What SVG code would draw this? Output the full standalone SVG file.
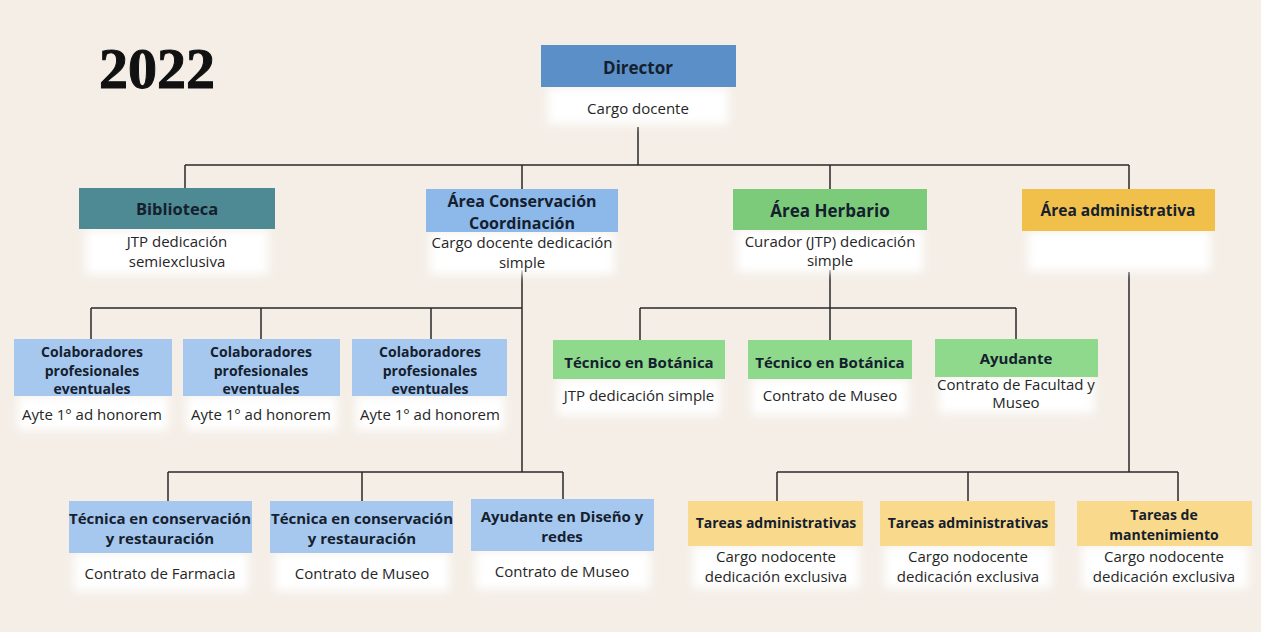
<svg xmlns="http://www.w3.org/2000/svg" width="1261" height="632" viewBox="0 0 1261 632">
<defs>
<filter id="soft" x="-20%" y="-40%" width="140%" height="180%"><feGaussianBlur stdDeviation="4"/></filter>
<style>
.t{font-family:"Open Sans","Liberation Sans",sans-serif;font-weight:700;fill:#15202e;text-anchor:middle}
.s{font-family:"Open Sans","Liberation Sans",sans-serif;font-weight:400;fill:#262626;text-anchor:middle;font-size:15px}
.blob{fill:#ffffff;filter:url(#soft)}
.c{stroke:#2a2a2a;stroke-width:1.5;fill:none}
.dblue{fill:#5b8fc8}
.teal{fill:#4e8a94}
.mblue{fill:#8cb9ea}
.lblue{fill:#a6c8ef}
.green{fill:#7ccb7b}
.lgreen{fill:#8fd98c}
.gold{fill:#f1c04b}
.lgold{fill:#f9d98c}
</style>
</defs>
<rect width="1261" height="632" fill="#f4eee7"/>
<text x="99" y="88" font-family="Liberation Serif, serif" font-weight="700" font-size="58" fill="#111" stroke="#111" stroke-width="1">2022</text>

<g id="connectors">
<path class="c" d="M638 127V165M185 165H1129M185 165V188M522 165V189M830 165V189M1129 165V189"/>
<path class="c" d="M522 270V472M91 308H522M91 308V339M261 308V339M431 308V339"/>
<path class="c" d="M830 270V340M640 308H1016M640 308V340M1016 308V339"/>
<path class="c" d="M168 472H563M168 472V501M362 472V501M563 472V501"/>
<path class="c" d="M1129 272V472M777 472H1178M777 472V501M968 472V501M1178 472V501"/>
</g>

<g id="director">
<rect class="blob" x="548" y="88" width="180" height="36"/>
<rect class="dblue" x="541" y="45" width="195" height="42"/>
<text class="t" x="638" y="74" font-size="17">Director</text>
<text class="s" x="638" y="114" font-size="16">Cargo docente</text>
</g>

<g id="biblioteca">
<rect class="blob" x="86" y="230" width="182" height="44"/>
<rect class="teal" x="79" y="188" width="196" height="41"/>
<text class="t" x="177" y="215" font-size="16.5">Biblioteca</text>
<text class="s" x="177" y="247" font-size="17">JTP dedicación</text>
<text class="s" x="177" y="267" font-size="17">semiexclusiva</text>
</g>

<g id="conservacion">
<rect class="blob" x="430" y="232" width="184" height="42"/>
<rect class="mblue" x="426" y="189" width="192" height="43"/>
<text class="t" x="522" y="207" font-size="16">Área Conservación</text>
<text class="t" x="522" y="229" font-size="16">Coordinación</text>
<text class="s" x="522" y="248" font-size="16.5">Cargo docente dedicación</text>
<text class="s" x="522" y="268" font-size="16.5">simple</text>
</g>

<g id="herbario">
<rect class="blob" x="737" y="230" width="186" height="42"/>
<rect class="green" x="733" y="189" width="194" height="41"/>
<text class="t" x="830" y="217" font-size="17">Área Herbario</text>
<text class="s" x="830" y="247" font-size="16.5">Curador (JTP) dedicación</text>
<text class="s" x="830" y="266" font-size="16.5">simple</text>
</g>

<g id="administrativa">
<rect class="blob" x="1028" y="231" width="182" height="40"/>
<rect class="gold" x="1022" y="189" width="193" height="42"/>
<text class="t" x="1118" y="216" font-size="15.5">Área administrativa</text>
</g>

<g id="colab1">
<rect class="blob" x="18" y="396" width="150" height="34"/>
<rect class="lblue" x="14" y="339" width="158" height="57"/>
<text class="t" x="92" y="357" font-size="14">Colaboradores</text>
<text class="t" x="92" y="376" font-size="14">profesionales</text>
<text class="t" x="92" y="394" font-size="14">eventuales</text>
<text class="s" x="92" y="420" font-size="14">Ayte 1° ad honorem</text>
</g>
<g id="colab2">
<rect class="blob" x="187" y="396" width="150" height="34"/>
<rect class="lblue" x="183" y="339" width="157" height="57"/>
<text class="t" x="261" y="357" font-size="14">Colaboradores</text>
<text class="t" x="261" y="376" font-size="14">profesionales</text>
<text class="t" x="261" y="394" font-size="14">eventuales</text>
<text class="s" x="261" y="420" font-size="14">Ayte 1° ad honorem</text>
</g>
<g id="colab3">
<rect class="blob" x="356" y="396" width="148" height="34"/>
<rect class="lblue" x="352" y="339" width="155" height="57"/>
<text class="t" x="430" y="357" font-size="14">Colaboradores</text>
<text class="t" x="430" y="376" font-size="14">profesionales</text>
<text class="t" x="430" y="394" font-size="14">eventuales</text>
<text class="s" x="430" y="420" font-size="14">Ayte 1° ad honorem</text>
</g>

<g id="tecnico1">
<rect class="blob" x="558" y="379" width="162" height="36"/>
<rect class="lgreen" x="553" y="340" width="172" height="39"/>
<text class="t" x="639" y="368" font-size="15">Técnico en Botánica</text>
<text class="s" x="639" y="401">JTP dedicación simple</text>
</g>
<g id="tecnico2">
<rect class="blob" x="752" y="379" width="156" height="36"/>
<rect class="lgreen" x="748" y="340" width="164" height="39"/>
<text class="t" x="830" y="368" font-size="15">Técnico en Botánica</text>
<text class="s" x="830" y="401">Contrato de Museo</text>
</g>
<g id="ayudante">
<rect class="blob" x="939" y="377" width="155" height="36"/>
<rect class="lgreen" x="935" y="339" width="163" height="38"/>
<text class="t" x="1016" y="364" font-size="15">Ayudante</text>
<text class="s" x="1016" y="390" font-size="14.5">Contrato de Facultad y</text>
<text class="s" x="1016" y="408" font-size="14.5">Museo</text>
</g>

<g id="tecnica1">
<rect class="blob" x="74" y="553" width="174" height="38"/>
<rect class="lblue" x="69" y="501" width="183" height="52"/>
<text class="t" x="160" y="524" font-size="15">Técnica en conservación</text>
<text class="t" x="160" y="544" font-size="15">y restauración</text>
<text class="s" x="160" y="579">Contrato de Farmacia</text>
</g>
<g id="tecnica2">
<rect class="blob" x="275" y="553" width="174" height="38"/>
<rect class="lblue" x="270" y="501" width="183" height="52"/>
<text class="t" x="362" y="524" font-size="15">Técnica en conservación</text>
<text class="t" x="362" y="544" font-size="15">y restauración</text>
<text class="s" x="362" y="579">Contrato de Museo</text>
</g>
<g id="ayudante-diseno">
<rect class="blob" x="476" y="551" width="174" height="38"/>
<rect class="lblue" x="471" y="499" width="183" height="52"/>
<text class="t" x="562" y="522" font-size="15">Ayudante en Diseño y</text>
<text class="t" x="562" y="542" font-size="15">redes</text>
<text class="s" x="562" y="577">Contrato de Museo</text>
</g>

<g id="tareas1">
<rect class="blob" x="693" y="546" width="166" height="42"/>
<rect class="lgold" x="688" y="501" width="175" height="45"/>
<text class="t" x="776" y="528" font-size="14">Tareas administrativas</text>
<text class="s" x="776" y="562">Cargo nodocente</text>
<text class="s" x="776" y="582">dedicación exclusiva</text>
</g>
<g id="tareas2">
<rect class="blob" x="885" y="546" width="166" height="42"/>
<rect class="lgold" x="880" y="501" width="175" height="45"/>
<text class="t" x="968" y="528" font-size="14">Tareas administrativas</text>
<text class="s" x="968" y="562">Cargo nodocente</text>
<text class="s" x="968" y="582">dedicación exclusiva</text>
</g>
<g id="mantenimiento">
<rect class="blob" x="1082" y="546" width="166" height="42"/>
<rect class="lgold" x="1077" y="501" width="175" height="45"/>
<text class="t" x="1164" y="520" font-size="14">Tareas de</text>
<text class="t" x="1164" y="540" font-size="14">mantenimiento</text>
<text class="s" x="1164" y="562">Cargo nodocente</text>
<text class="s" x="1164" y="582">dedicación exclusiva</text>
</g>
</svg>
